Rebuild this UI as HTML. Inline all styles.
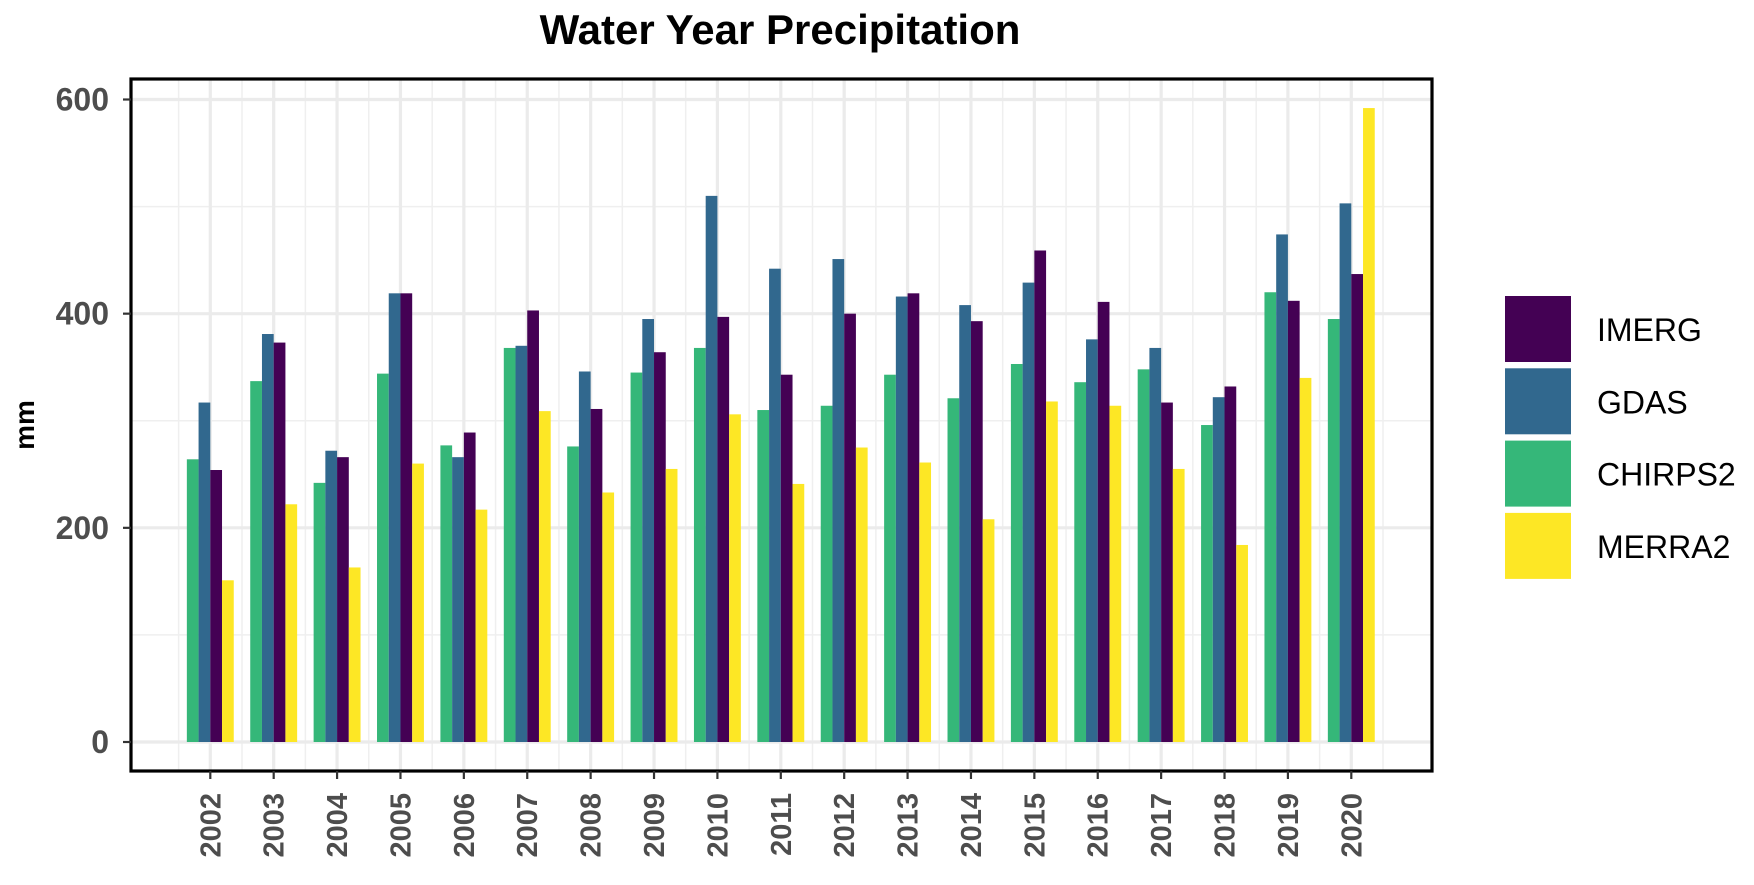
<!DOCTYPE html>
<html><head><meta charset="utf-8"><style>
body{margin:0;background:#fff;width:1754px;height:885px;overflow:hidden}
svg{display:block;font-family:"Liberation Sans",sans-serif}
</style></head><body>
<svg id="chart" width="1754" height="885" viewBox="0 0 1754 885" xmlns="http://www.w3.org/2000/svg"></svg>
<script>
const years=['2002','2003','2004','2005','2006','2007','2008','2009','2010','2011','2012','2013','2014','2015','2016','2017','2018','2019','2020'];
const chirps=[264,337,242,344,277,368,276,345,368,310,314,343,321,353,336,348,296,420,395];
const gdas=[317,381,272,419,266,370,346,395,510,442,451,416,408,429,376,368,322,474,503];
const imerg=[254,373,266,419,289,403,311,364,397,343,400,419,393,459,411,317,332,412,437];
const merra=[151,222,163,260,217,309,233,255,306,241,275,261,208,318,314,255,184,340,592];
const yTicks=[0,200,400,600];
const seriesNames=['CHIRPS2','GDAS','IMERG','MERRA2'];
const legendNames=['IMERG','GDAS','CHIRPS2','MERRA2'];

const colors={IMERG:'#440154',GDAS:'#31688e',CHIRPS2:'#35b779',MERRA2:'#fde725'};
const seriesData={CHIRPS2:chirps,GDAS:gdas,IMERG:imerg,MERRA2:merra};
const svg=document.getElementById('chart');
const NS='http://www.w3.org/2000/svg';
const L=131,R=1432,T=79,B=771;
const y0=742,y600=99.5;
const y=v=>y0+(y600-y0)*v/600;
const step=(1351.3-210.3)/(years.length-1);
const x=i=>210.3+i*step;
const bw=step*0.185;
function mk(tag,attrs,parent){const e=document.createElementNS(NS,tag);for(const k in attrs)e.setAttribute(k,attrs[k]);(parent||svg).appendChild(e);return e;}
const grid=mk('g',{});


for(let v=100;v<=600;v+=200){if(y(v)>T)mk('line',{x1:L,x2:R,y1:y(v),y2:y(v),stroke:'#efefef','stroke-width':1.5},grid);}
for(let i=-1;i<years.length+1;i++){const xm=x(i)+step/2;if(xm>L&&xm<R)mk('line',{x1:xm,x2:xm,y1:T,y2:B,stroke:'#efefef','stroke-width':1.5},grid);}
yTicks.forEach(v=>mk('line',{x1:L,x2:R,y1:y(v),y2:y(v),stroke:'#ebebeb','stroke-width':3.2},grid));
years.forEach((yr,i)=>mk('line',{x1:x(i),x2:x(i),y1:T,y2:B,stroke:'#ebebeb','stroke-width':3.2},grid));
years.forEach((yr,i)=>{
  seriesNames.forEach((s,j)=>{
    const v=seriesData[s][i];
    const r=mk('rect',{x:x(i)-2*bw+j*bw,y:y(v),width:bw,height:y(0)-y(v),fill:colors[s]});
    
    
  });
});
const border=mk('rect',{x:L,y:T,width:R-L,height:B-T,fill:'none',stroke:'#000','stroke-width':3.2});


yTicks.forEach(v=>{
  mk('line',{x1:L-8,x2:L,y1:y(v),y2:y(v),stroke:'#333','stroke-width':2.2});
  const t=mk('text',{x:L-22,y:y(v)+11,'text-anchor':'end','font-size':32,'font-weight':'bold',fill:'#4d4d4d'});
  t.textContent=v;
  
  
});
years.forEach((yr,i)=>{
  mk('line',{x1:x(i),x2:x(i),y1:B,y2:B+8,stroke:'#333','stroke-width':2.2});
  const t=mk('text',{transform:`translate(${x(i)+10},${B+22}) rotate(-90)`,'text-anchor':'end','font-size':29,'font-weight':'bold',fill:'#4d4d4d'});
  t.textContent=yr;
  
  
});
const yl=mk('text',{transform:'translate(34,425) rotate(-90)','text-anchor':'middle','font-size':28,'font-weight':'bold',fill:'#000'});
yl.textContent='mm';


const title=mk('text',{x:780,y:44,'text-anchor':'middle','font-size':42,'font-weight':'bold',fill:'#000'});
title.textContent='Water Year Precipitation';


legendNames.forEach((s,k)=>{
  const g=mk('g',{});
  
  
  const ky=296+k*72.3;
  mk('rect',{x:1505,y:ky,width:66,height:66,fill:colors[s]},g);
  const t=mk('text',{x:1597,y:ky+45,'font-size':32,fill:'#000'},g);
  t.textContent=s;
});
</script>
</body></html>
